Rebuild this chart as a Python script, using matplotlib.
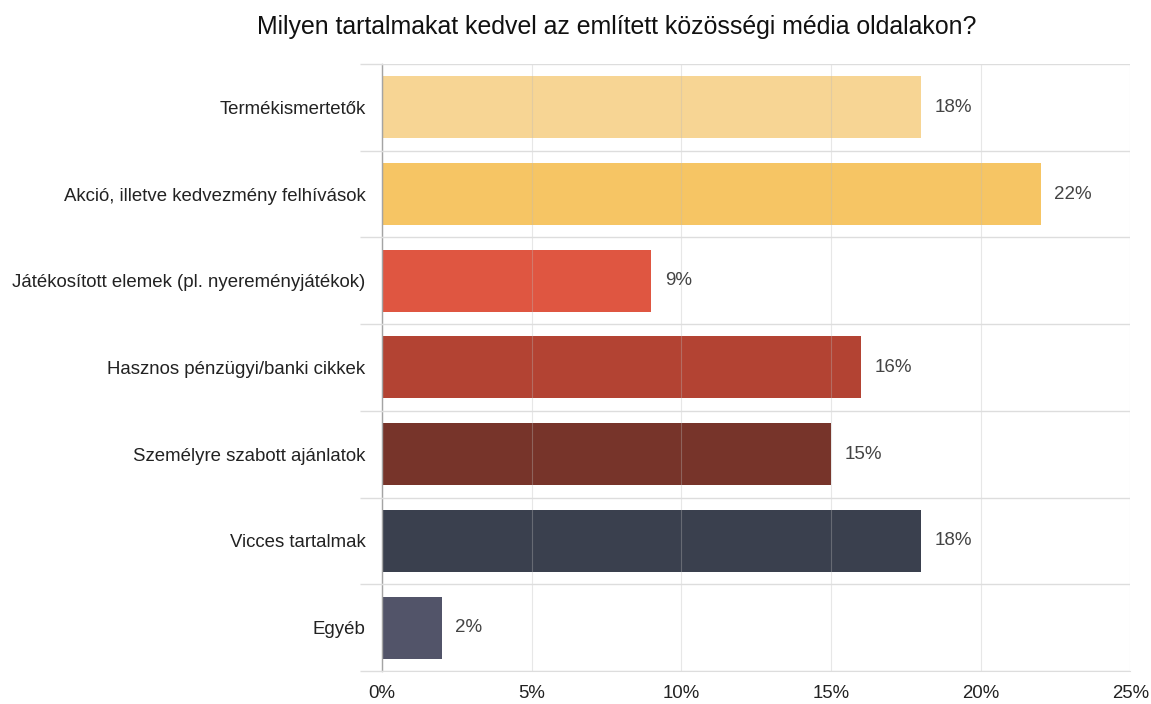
import matplotlib.pyplot as plt
import numpy as np
from matplotlib.ticker import FuncFormatter, MultipleLocator

plt.rcParams['font.family'] = ['Liberation Sans', 'DejaVu Sans']

# Adatok
kategoriak = [
    "Termékismertetők",
    "Akció, illetve kedvezmény felhívások",
    "Játékosított elemek (pl. nyereményjátékok)",
    "Hasznos pénzügyi/banki cikkek",
    "Személyre szabott ajánlatok",
    "Vicces tartalmak",
    "Egyéb",
]
ertekek = [18, 22, 9, 16, 15, 18, 2]
szinek = ["#F7D594", "#F6C564", "#DF5641", "#B34333", "#77342A", "#3A404E", "#525469"]

fig = plt.figure(figsize=(11.51, 7.04), dpi=100)
ax = fig.add_axes([0.332, 0.047, 0.650, 0.862])

y = np.arange(len(kategoriak))
ax.barh(y, ertekek, height=0.715, color=szinek, zorder=1)

for yi, v in zip(y, ertekek):
    ax.text(v + 0.45, yi, f"{v}%", va="center", ha="left", fontsize=13.5, color="#444444")

ax.set_xlim(0, 25)
ax.set_ylim(len(kategoriak) - 0.5, -0.5)
ax.xaxis.set_major_locator(MultipleLocator(5))
ax.xaxis.set_major_formatter(FuncFormatter(lambda v, p: f"{v:.0f}%"))
ax.set_yticks(y)
ax.set_yticklabels(kategoriak)
ax.set_yticks(np.arange(-0.5, len(kategoriak)), minor=True)

ax.tick_params(axis="y", which="major", length=0, pad=12, labelsize=13.4, labelcolor="#222222")
ax.tick_params(axis="y", which="minor", length=16, color="#dddddd", width=1)
ax.tick_params(axis="x", length=0, pad=10, labelsize=13.4, labelcolor="#222222")

ax.grid(axis="x", which="major", color="#bbbbbb", linewidth=0.8, alpha=0.35, zorder=3)
ax.grid(axis="y", which="minor", color="#dddddd", linewidth=1)
ax.set_axisbelow(False)
for s in ["top", "right"]:
    ax.spines[s].set_visible(False)
ax.spines["bottom"].set_color("#dddddd")
ax.spines["left"].set_color("#999999")
ax.spines["left"].set_linewidth(1)

fig.text(0.536, 0.962, "Milyen tartalmakat kedvel az említett közösségi média oldalakon?",
         ha="center", va="center", fontsize=17.9, color="#111111")

fig.savefig("out.png", dpi=100)
